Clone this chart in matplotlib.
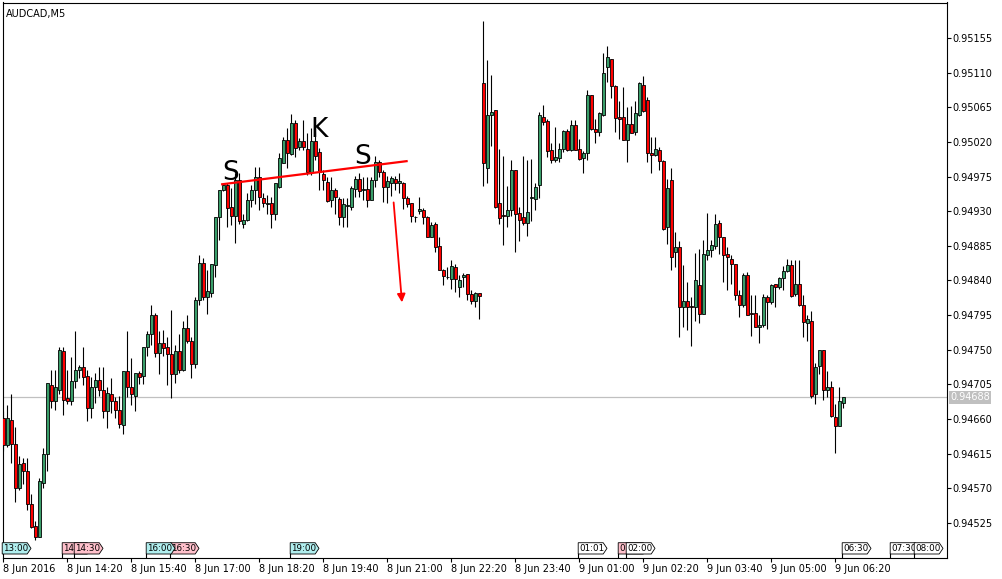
import matplotlib
matplotlib.use('Agg')
import matplotlib.pyplot as plt
from matplotlib.patches import Polygon
import numpy as np

# AUDCAD M5, prices in points (1e-5), one bar = 5 min starting 8 Jun 13:00
opens = [94662, 94626, 94659, 94628, 94571, 94603, 94593, 94549, 94521, 94507,
         94577, 94614, 94704, 94683, 94698, 94749, 94687, 94684, 94709, 94724,
         94728, 94716, 94675, 94701, 94711, 94698, 94670, 94693, 94683, 94672,
         94652, 94722, 94701, 94690, 94720, 94716, 94753, 94771, 94795, 94746,
         94759, 94753, 94744, 94719, 94749, 94724, 94778, 94761, 94732, 94814,
         94863, 94818, 94824, 94860, 94922, 94957, 94964, 94935, 94924, 94971,
         94914, 94919, 94944, 94957, 94974, 94947, 94939, 94940, 94927, 94962,
         94992, 95022, 95004, 95044, 95013, 95021, 95011, 94981, 95021, 95007,
         94978, 94968, 94944, 94958, 94946, 94922, 94937, 94935, 94959, 94972,
         94957, 94959, 94944, 94970, 94994, 94981, 94961, 94966, 94972, 94966,
         94967, 94947, 94940, 94923, 94930, 94932, 94923, 94896, 94914, 94885,
         94853, 94844, 94842, 94857, 94831, 94844, 94848, 94823, 94813, 94824,
         95096, 94986, 95055, 95061, 94941, 94925, 94924, 94931, 94984, 94928,
         94923, 94915, 94947, 94946, 94964, 95053, 95047, 95009, 94997, 94999,
         95011, 95034, 95009, 95042, 95011, 94999, 95005, 95081, 95037, 95033,
         95055, 95117, 95128, 95092, 95052, 95052, 95023, 95043, 95033, 95055,
         95094, 95074, 95006, 95003, 95010, 94995, 94909, 94971, 94877, 94883,
         94805, 94813, 94807, 94805, 94834, 94797, 94873, 94879, 94885, 94915,
         94896, 94874, 94868, 94861, 94821, 94808, 94847, 94798, 94798, 94779,
         94782, 94818, 94812, 94835, 94831, 94843, 94852, 94860, 94823, 94835,
         94808, 94785, 94788, 94693, 94729, 94750, 94698, 94701, 94663, 94651,
         94681]
highs = [94671, 94678, 94692, 94650, 94612, 94610, 94610, 94562, 94528, 94584,
         94623, 94707, 94724, 94724, 94754, 94753, 94724, 94741, 94775, 94730,
         94754, 94724, 94714, 94720, 94727, 94727, 94702, 94713, 94688, 94690,
         94722, 94774, 94739, 94720, 94722, 94754, 94775, 94808, 94798, 94775,
         94776, 94767, 94802, 94756, 94771, 94788, 94795, 94766, 94819, 94873,
         94869, 94853, 94861, 94923, 94957, 94966, 94966, 94960, 94979, 94979,
         94926, 94953, 94964, 94988, 94988, 94953, 94951, 94948, 94966, 95005,
         95026, 95038, 95056, 95048, 95025, 95048, 95031, 95038, 95033, 95012,
         94983, 94974, 94974, 94960, 94948, 94947, 94947, 94963, 94976, 94980,
         94974, 94974, 94974, 95002, 94996, 94983, 94976, 94976, 94976, 94980,
         94968, 94950, 94940, 94924, 94949, 94934, 94924, 94916, 94916, 94896,
         94855, 94857, 94866, 94862, 94847, 94850, 94849, 94827, 94825, 94824,
         95177, 95126, 95107, 95061, 95011, 95002, 94963, 94997, 94984, 94935,
         95002, 94996, 94998, 94966, 95059, 95068, 95050, 95018, 95040, 95019,
         95035, 95037, 95049, 95049, 95024, 95008, 95088, 95081, 95050, 95059,
         95135, 95144, 95128, 95094, 95073, 95091, 95065, 95067, 95073, 95098,
         95105, 95078, 95026, 95026, 95013, 94996, 94972, 94986, 94903, 94891,
         94860, 94838, 94818, 94876, 94881, 94892, 94928, 94892, 94926, 94919,
         94896, 94883, 94873, 94861, 94827, 94850, 94851, 94821, 94821, 94795,
         94823, 94821, 94836, 94836, 94844, 94859, 94868, 94866, 94866, 94866,
         94821, 94795, 94800, 94733, 94750, 94750, 94722, 94709, 94679, 94701,
         94689]
lows = [94619, 94624, 94603, 94552, 94568, 94576, 94542, 94519, 94503, 94507,
        94570, 94593, 94674, 94672, 94693, 94665, 94680, 94678, 94700, 94713,
        94704, 94657, 94662, 94681, 94690, 94661, 94648, 94668, 94662, 94649,
        94641, 94688, 94678, 94670, 94705, 94705, 94742, 94756, 94741, 94719,
        94742, 94704, 94687, 94707, 94720, 94723, 94759, 94713, 94726, 94808,
        94814, 94796, 94818, 94844, 94892, 94956, 94909, 94912, 94889, 94914,
        94908, 94917, 94936, 94939, 94931, 94935, 94927, 94908, 94918, 94960,
        94992, 94986, 95003, 95000, 95009, 95009, 94977, 94977, 94996, 94958,
        94958, 94942, 94935, 94927, 94912, 94909, 94909, 94931, 94948, 94949,
        94944, 94935, 94944, 94961, 94974, 94942, 94940, 94950, 94957, 94953,
        94933, 94936, 94916, 94916, 94927, 94914, 94896, 94896, 94877, 94853,
        94834, 94842, 94829, 94825, 94818, 94831, 94814, 94809, 94805, 94790,
        94963, 94967, 95015, 94934, 94913, 94886, 94909, 94924, 94877, 94891,
        94912, 94898, 94917, 94932, 94947, 95042, 95000, 94992, 94994, 94994,
        95007, 95008, 95008, 95009, 94997, 94979, 94997, 95035, 95018, 95028,
        95054, 95098, 95077, 95033, 95024, 95022, 94994, 95031, 95029, 95054,
        95059, 94994, 94980, 95002, 94984, 94905, 94888, 94853, 94858, 94767,
        94779, 94776, 94755, 94788, 94785, 94797, 94867, 94870, 94881, 94874,
        94838, 94827, 94836, 94815, 94792, 94806, 94795, 94768, 94779, 94759,
        94779, 94777, 94810, 94805, 94829, 94828, 94851, 94818, 94820, 94807,
        94766, 94762, 94687, 94679, 94719, 94685, 94688, 94663, 94616, 94651,
        94675]
closes = [94626, 94661, 94628, 94571, 94601, 94592, 94549, 94520, 94507, 94580,
          94614, 94707, 94683, 94701, 94750, 94685, 94684, 94710, 94724, 94727,
          94715, 94674, 94702, 94711, 94698, 94670, 94694, 94683, 94672, 94653,
          94722, 94701, 94692, 94720, 94715, 94753, 94771, 94795, 94746, 94759,
          94752, 94744, 94719, 94749, 94724, 94778, 94761, 94731, 94814, 94863,
          94818, 94826, 94861, 94923, 94957, 94964, 94934, 94924, 94971, 94917,
          94919, 94945, 94958, 94974, 94949, 94940, 94940, 94927, 94966, 94999,
          95023, 95006, 95044, 95012, 95021, 95013, 94981, 95021, 95002, 94981,
          94970, 94943, 94958, 94948, 94922, 94939, 94938, 94960, 94972, 94956,
          94959, 94944, 94970, 94994, 94981, 94961, 94969, 94973, 94966, 94969,
          94947, 94939, 94924, 94922, 94933, 94922, 94897, 94912, 94883, 94853,
          94846, 94845, 94859, 94842, 94840, 94847, 94823, 94813, 94824, 94820,
          94993, 95055, 95059, 94936, 94921, 94924, 94931, 94984, 94927, 94919,
          94915, 94929, 94948, 94961, 95055, 95046, 95008, 94997, 95000, 95011,
          95034, 95010, 95042, 95010, 94998, 95006, 95081, 95037, 95033, 95057,
          95110, 95130, 95092, 95051, 95050, 95022, 95043, 95032, 95057, 95096,
          95060, 95006, 95003, 95011, 94995, 94907, 94960, 94870, 94883, 94805,
          94813, 94806, 94805, 94840, 94797, 94874, 94879, 94886, 94914, 94896,
          94873, 94870, 94861, 94821, 94808, 94847, 94795, 94797, 94779, 94782,
          94818, 94812, 94834, 94831, 94843, 94852, 94860, 94820, 94835, 94808,
          94786, 94790, 94690, 94728, 94750, 94698, 94702, 94664, 94651, 94683,
          94688]

price_ticks = [94525, 94570, 94615, 94660, 94705, 94750, 94795, 94840,
               94885, 94930, 94975, 95020, 95065, 95110, 95155]
time_bars = [0, 16, 32, 48, 64, 80, 96, 112, 128, 144, 160, 176, 192, 208]
time_labels = ['8 Jun 2016', '8 Jun 14:20', '8 Jun 15:40', '8 Jun 17:00',
               '8 Jun 18:20', '8 Jun 19:40', '8 Jun 21:00', '8 Jun 22:20',
               '8 Jun 23:40', '9 Jun 01:00', '9 Jun 02:20', '9 Jun 03:40',
               '9 Jun 05:00', '9 Jun 06:20']
# event tags along the bottom: bar, visible text, kind (drawn in this order)
tag_bars = [0, 15, 18, 42, 36, 72, 144, 154, 156, 210, 222, 228]
tag_texts = ['13:00', '14', '14:30', '16:30', '16:00', '19:00',
             '01:01', '0', '02:00', '06:30', '07:30', '08:00']
tag_kinds = ['c', 'p', 'p', 'p', 'c', 'c', 'w', 'p', 'w', 'w', 'w', 'w']
last_price = 94688

o = np.array(opens) / 1e5
h = np.array(highs) / 1e5
l = np.array(lows) / 1e5
c = np.array(closes) / 1e5
x = np.arange(len(o))

fig = plt.figure(figsize=(10.02, 5.79), dpi=100)
ax = fig.add_axes([2.5 / 1002, 21 / 579, 944 / 1002, 555.5 / 579])
ax.set_xlim(-0.125, 235.875)
ax.set_ylim(0.944795, 0.952011)

green = '#3a9e6a'
red = '#ff0000'
up = c >= o
ax.vlines(x, l, h, color='black', lw=0.8, zorder=2)
ax.bar(x, np.abs(c - o), bottom=np.minimum(o, c), width=0.75,
       color=np.where(up, green, red), edgecolor='black', linewidth=0.6, zorder=3)

# current price line
ax.axhline(last_price / 1e5, color='#c0c0c0', lw=0.9, zorder=1)
ax.text(1.004, last_price / 1e5, '%.5f' % (last_price / 1e5), transform=ax.get_yaxis_transform(),
        fontsize=7, color='white', va='center', ha='left',
        bbox=dict(boxstyle='square,pad=0.15', fc='#c0c0c0', ec='none'))

# head and shoulders markup
ax.plot([54.8, 100.9], [0.94965, 0.94995], color='red', lw=1.6, zorder=4)
ax.annotate('', xy=(99.8, 0.94808), xytext=(97.6, 0.94945),
            arrowprops=dict(arrowstyle='-|>', color='red', lw=1.3, mutation_scale=12), zorder=4)
ax.text(56.9, 0.94970, 'S', fontsize=19, ha='center', va='baseline', zorder=5)
ax.text(79.1, 0.95027, 'K', fontsize=19, ha='center', va='baseline', zorder=5)
ax.text(90.0, 0.94991, 'S', fontsize=19, ha='center', va='baseline', zorder=5)

ax.text(0.004, 0.988, 'AUDCAD,M5', transform=ax.transAxes, fontsize=7, va='top', ha='left')

# tags
trans = ax.get_xaxis_transform()
fills = {'c': '#b0eeee', 'p': '#ffc0cb', 'w': 'white'}
y0, y1 = 0.0072, 0.0275
ym = (y0 + y1) / 2
for i, (b, txt, k) in enumerate(zip(tag_bars, tag_texts, tag_kinds)):
    z = 6 + i
    x0 = b - 0.2
    pts = [(x0, y0), (x0 + 6.25, y0), (x0 + 7.2, ym), (x0 + 6.25, y1), (x0, y1)]
    ax.add_patch(Polygon(pts, closed=True, transform=trans, fc=fills[k], ec='black',
                         lw=0.6, zorder=z, clip_on=False))
    ax.plot([x0, x0], [0, y0], transform=trans, color='black', lw=0.8, zorder=z)
    ax.text(x0 + 0.3, ym, txt, transform=trans, fontsize=6.3, va='center', ha='left', zorder=z)

ax.yaxis.tick_right()
ax.set_yticks(np.array(price_ticks) / 1e5)
ax.set_yticklabels(['%.5f' % (p / 1e5) for p in price_ticks])
ax.set_xticks(time_bars)
ax.set_xticklabels(time_labels)
for t in ax.get_xticklabels():
    t.set_horizontalalignment('left')
ax.tick_params(axis='both', labelsize=7, length=3, width=0.8, pad=1.5, colors='black')
for s in ax.spines.values():
    s.set_linewidth(0.8)
    s.set_color('black')

fig.savefig('out.png', dpi=100)
